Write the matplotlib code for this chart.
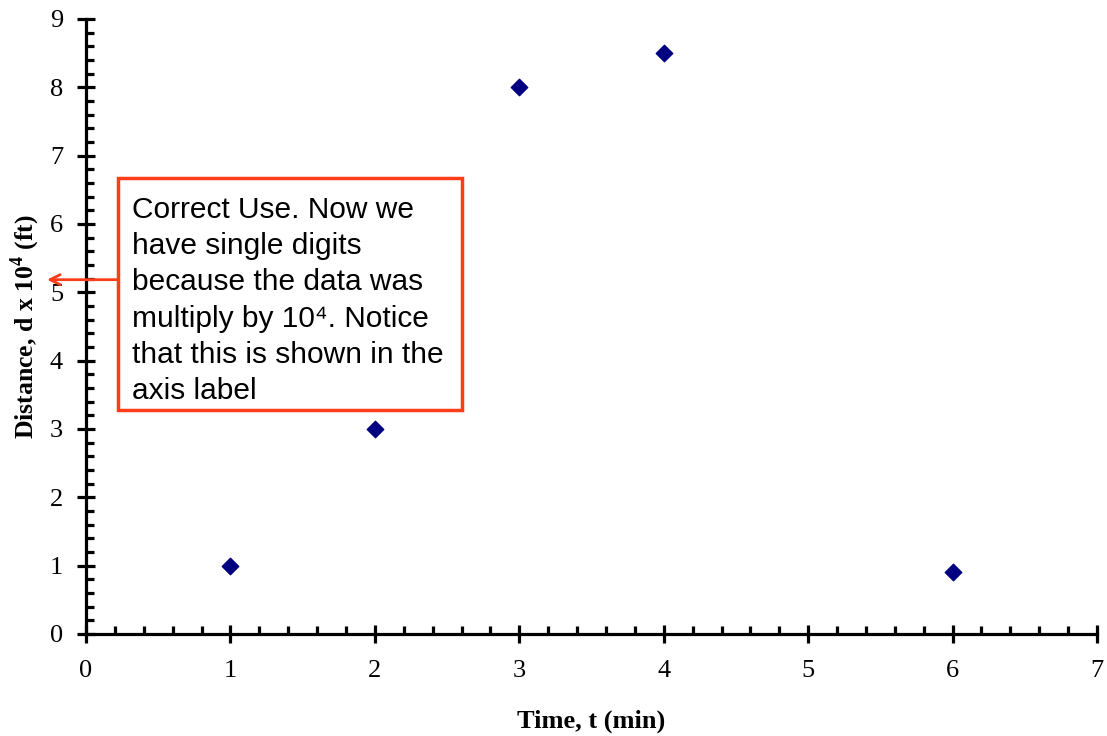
import numpy as np
import matplotlib.pyplot as plt
from matplotlib.patches import Rectangle
from matplotlib.ticker import MultipleLocator

time_min = [1, 2, 3, 4, 6]
distance = [1.0, 3.0, 8.0, 8.5, 0.9]

note_lines = ["Correct Use. Now we", "have single digits", "because the data was",
              "multiply by 10\u2074. Notice", "that this is shown in the",
              "axis label"]
red = '#ff3d1a'

plt.rcParams['mathtext.fontset'] = 'custom'
plt.rcParams['mathtext.rm'] = 'Liberation Serif'
plt.rcParams['mathtext.bf'] = 'Liberation Serif:bold'

fig = plt.figure(figsize=(11.07, 7.36), dpi=100)
ax = fig.add_axes([0.0777, 0.1386, 0.9133, 0.8356])

ax.scatter(time_min, distance, marker='D', s=70, color='#000080', zorder=3)

ax.set_xlim(0, 7)
ax.set_ylim(0, 9)
ax.xaxis.set_major_locator(MultipleLocator(1))
ax.xaxis.set_minor_locator(MultipleLocator(0.2))
ax.yaxis.set_major_locator(MultipleLocator(1))
ax.yaxis.set_minor_locator(MultipleLocator(0.2))

for s in ['top', 'right']:
    ax.spines[s].set_visible(False)
for s in ['left', 'bottom']:
    ax.spines[s].set_linewidth(2.3)

ax.tick_params(which='major', direction='inout', length=13, width=2.3,
               labelsize=19)
ax.tick_params(axis='x', which='major', pad=12)
ax.tick_params(axis='y', which='major', pad=10)
ax.tick_params(which='minor', direction='in', length=6, width=2.3)
for lab in ax.get_xticklabels() + ax.get_yticklabels():
    lab.set_family('Liberation Serif')

ax.set_xlabel('Time, t (min)', family='Liberation Serif', fontweight='bold',
              fontsize=19, labelpad=20)
ax.set_ylabel('Distance, d x 10$^\\mathbf{4}$ (ft)', family='Liberation Serif',
              fontweight='bold', fontsize=18.5, labelpad=6)

# annotation box
ax.add_patch(Rectangle((0.0317, 0.364), 0.3403, 0.377, transform=ax.transAxes,
                       fill=True, facecolor='white', edgecolor=red,
                       linewidth=2.5, zorder=4, clip_on=False))
for i, line in enumerate(note_lines):
    ax.text(0.0455, 0.689 - i * 0.0587, line, transform=ax.transAxes,
            ha='left', va='center', family='Liberation Sans', fontsize=21.5,
            zorder=5)
ax.annotate('', xy=(0.0425, 0.62), xycoords='figure fraction',
            xytext=(0.1066, 0.62), textcoords='figure fraction',
            arrowprops=dict(arrowstyle='->', color=red, lw=2,
                            shrinkA=0, shrinkB=0, mutation_scale=18),
            zorder=5)

fig.savefig('out.png', dpi=100)
